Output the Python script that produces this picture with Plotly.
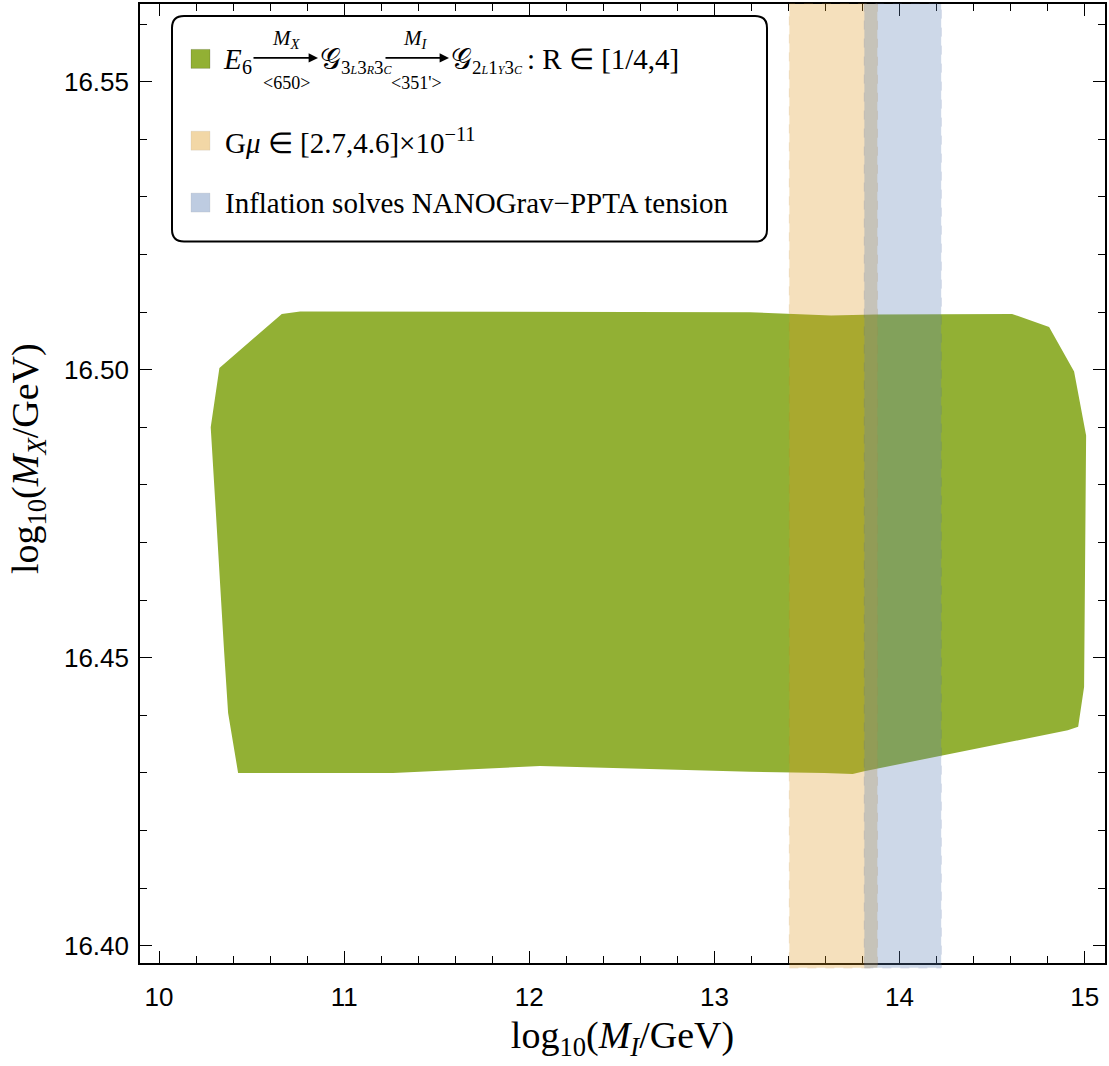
import plotly.graph_objects as go

# ---------------- data ----------------
# allowed region boundary (log10 M_I, log10 M_X)
MI_vals = [10.279, 10.326, 10.663, 10.762, 13.193, 13.630, 13.863, 14.608, 14.808,
           14.943, 15.008, 14.997, 14.965, 14.909, 13.809, 13.747, 13.594, 13.193,
           12.058, 11.264, 10.708, 10.427, 10.373, 10.351, 10.303]
MX_vals = [16.4900, 16.5003, 16.5097, 16.5101, 16.5100, 16.5094, 16.5096, 16.5097, 16.5074,
           16.4997, 16.4886, 16.4449, 16.4380, 16.4374, 16.4303, 16.4298, 16.4300, 16.4302,
           16.4312, 16.4300, 16.4300, 16.4300, 16.4404, 16.4513, 16.4773]

gmu_band = [13.405, 13.880]        # G mu in [2.7,4.6]e-11
infl_band = [13.810, 14.225]       # inflation solves NANOGrav-PPTA tension

x_range = [9.897, 15.11]
y_range = [16.397, 16.5635]
x_ticks = [10, 11, 12, 13, 14, 15]
y_ticks = [16.40, 16.45, 16.50, 16.55]

GREEN = "#92B034"
ORANGE = "rgb(224,156,36)"
BLUE = "rgb(94,129,181)"

# ---------------- figure ----------------
W, H = 1109, 1066
L, R, T, B = 140, 4, 2, 103
PW, PH = W - L - R, H - T - B


def px(x):
    return (x - L) / PW


def py(y):
    return (H - B - y) / PH


fig = go.Figure()
fig.add_trace(go.Scatter(x=MI_vals, y=MX_vals, fill="toself", mode="lines",
                         line=dict(width=0, color=GREEN), fillcolor=GREEN,
                         showlegend=False, hoverinfo="skip"))

for band, col, lc in [(gmu_band, ORANGE, "rgb(205,135,25)"), (infl_band, BLUE, "rgb(75,105,165)")]:
    fig.add_shape(type="rect", xref="x", yref="paper", x0=band[0], x1=band[1],
                  y0=-0.005, y1=1.0, fillcolor=col, opacity=0.3,
                  line=dict(color=lc, width=1.0, dash="dash"), layer="above")

TICKF = dict(family="Liberation Sans, Arial", size=26, color="black")
SERIF = "Liberation Serif, Times New Roman"

axis_common = dict(showline=True, linecolor="black", linewidth=1.6, mirror="ticks",
                   ticks="inside", ticklen=12, tickwidth=1.3, tickcolor="black",
                   showgrid=False, zeroline=False, tickfont=TICKF)

fig.update_xaxes(range=x_range, tickvals=x_ticks, ticklabelstandoff=10,
                 minor=dict(dtick=0.2, ticks="inside", ticklen=7, tickwidth=1.1, tickcolor="black"),
                 title=dict(text="log<sub>10</sub>(<i>M<sub>I</sub></i>/GeV)",
                            font=dict(family=SERIF, size=38, color="black"), standoff=10),
                 **axis_common)
fig.update_yaxes(range=y_range, tickvals=y_ticks, tickformat=".2f", ticklabelstandoff=4,
                 minor=dict(dtick=0.01, ticks="inside", ticklen=7, tickwidth=1.1, tickcolor="black"),
                 **axis_common)

# y axis title (placed as rotated text)
fig.add_annotation(xref="paper", yref="paper", x=px(28), y=py(458), textangle=-90,
                   text="log<sub>10</sub>(<i>M<sub>X</sub></i>/GeV)", showarrow=False,
                   xanchor="center", yanchor="middle",
                   font=dict(family=SERIF, size=38, color="black"))

# ---------------- custom legend ----------------
bx0, bx1, by0, by1, rr = 172, 767, 14, 240, 12
path = (f"M {px(bx0+rr)},{py(by0)} L {px(bx1-rr)},{py(by0)} Q {px(bx1)},{py(by0)} {px(bx1)},{py(by0+rr)} "
        f"L {px(bx1)},{py(by1-rr)} Q {px(bx1)},{py(by1)} {px(bx1-rr)},{py(by1)} "
        f"L {px(bx0+rr)},{py(by1)} Q {px(bx0)},{py(by1)} {px(bx0)},{py(by1-rr)} "
        f"L {px(bx0)},{py(by0+rr)} Q {px(bx0)},{py(by0)} {px(bx0+rr)},{py(by0)} Z")
fig.add_shape(type="path", xref="paper", yref="paper", path=path,
              line=dict(color="black", width=2), fillcolor="white", layer="above")

rows_y = [57, 139, 201]
for ry, col, op in [(rows_y[0], GREEN, 1.0), (rows_y[1], ORANGE, 0.4), (rows_y[2], BLUE, 0.4)]:
    fig.add_shape(type="rect", xref="paper", yref="paper", x0=px(191), x1=px(210),
                  y0=py(ry + 9.5), y1=py(ry - 9.5), fillcolor=col, opacity=op,
                  line=dict(color="rgba(0,0,0,0.15)", width=1), layer="above")

LF = 29


def txt(x, y, s, size=LF, anchor="left"):
    fig.add_annotation(xref="paper", yref="paper", x=px(x), y=py(y), text=s,
                       showarrow=False, xanchor=anchor, yanchor="middle",
                       font=dict(family=SERIF, size=size, color="black"))


def arrow(x0, x1, y):
    fig.add_annotation(xref="paper", yref="paper", x=px(x1), y=py(y), ax=-(x1 - x0), ay=0,
                       text="", showarrow=True, arrowhead=2, arrowsize=1.1, arrowwidth=1.7,
                       arrowcolor="black", standoff=0)


def small(s):
    return f"<span style='font-size:12px'><i>{s}</i></span>"


r1 = rows_y[0]
txt(221, r1, "<i>E</i>")
txt(240, r1 + 8, "6", size=20)
arrow(252, 318, r1 - 1)
txt(286, r1 - 20, "<i>M<sub>X</sub></i>", size=21, anchor="center")
txt(286, r1 + 24, "&lt;650&gt;", size=18, anchor="center")
txt(318, r1, "𝒢")
txt(339, r1 + 9, "3" + small("L") + "3" + small("R") + "3" + small("C"), size=19)
arrow(384, 449, r1 - 1)
txt(415, r1 - 20, "<i>M<sub>I</sub></i>", size=21, anchor="center")
txt(416, r1 + 24, "&lt;351'&gt;", size=18, anchor="center")
txt(449, r1, "𝒢")
txt(470, r1 + 9, "2" + small("L") + "1" + small("Y") + "3" + small("C"), size=19)
txt(525, r1, ": R ∈ [1/4,4]")

txt(223, rows_y[1], "G<i>μ</i> ∈ [2.7,4.6]×10<sup>−11</sup>")
txt(223, rows_y[2], "Inflation solves NANOGrav−PPTA tension")

fig.update_layout(width=W, height=H, margin=dict(l=L, r=R, t=T, b=B),
                  plot_bgcolor="white", paper_bgcolor="white", showlegend=False)

fig.write_html("out.html", config={"displayModeBar": False},
               post_script="document.body.style.margin='0';document.body.style.overflow='hidden';")
